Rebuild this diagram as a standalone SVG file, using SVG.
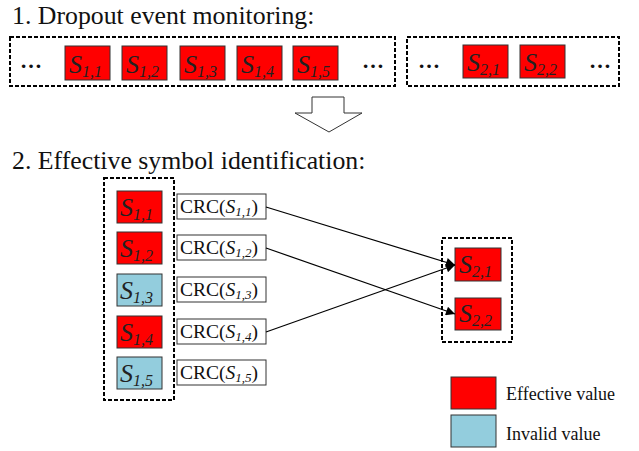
<svg xmlns="http://www.w3.org/2000/svg" width="639" height="451" viewBox="0 0 639 451">
<style>
text{font-family:'Liberation Serif','Times New Roman',serif;fill:#111}
.hd{font-size:25.8px}
.dash{fill:none;stroke:#000;stroke-width:2;stroke-dasharray:4 2}
.red{fill:#ff0000;stroke:#333;stroke-width:1}
.blue{fill:#93cddd;stroke:#333;stroke-width:1}
.sym{font-size:26px;font-style:italic;fill:#222}
.sub{font-size:16px}
.crc{fill:#fff;stroke:#333;stroke-width:1}
.crct{font-size:19.5px}
.dots{font-size:22px;font-weight:bold}
.conn{fill:none;stroke:#000;stroke-width:1.2;marker-end:url(#ah)}
.leg{font-size:18px}
</style>
<defs>
<marker id="ah" viewBox="0 0 10 10" refX="10" refY="5" markerWidth="10" markerHeight="9" markerUnits="userSpaceOnUse" orient="auto">
<path d="M0,0 L10,5 L0,10 z" fill="#000"/>
</marker>
</defs>
<rect width="639" height="451" fill="#fff"/>

<text class="hd" x="12" y="24">1. Dropout event monitoring:</text>

<g id="stream1">
<rect class="dash" x="10" y="37" width="385" height="49"/>
<text class="dots" x="20" y="68">…</text>
<text class="dots" x="362" y="68">…</text>
</g>
<g id="top-s11"><rect class="red" x="65" y="46" width="45" height="34"/><text class="sym" x="69" y="73">S<tspan class="sub" dy="4">1,1</tspan></text></g>
<g id="top-s12"><rect class="red" x="122" y="46" width="45" height="34"/><text class="sym" x="126" y="73">S<tspan class="sub" dy="4">1,2</tspan></text></g>
<g id="top-s13"><rect class="red" x="180" y="46" width="45" height="34"/><text class="sym" x="184" y="73">S<tspan class="sub" dy="4">1,3</tspan></text></g>
<g id="top-s14"><rect class="red" x="237" y="46" width="45" height="34"/><text class="sym" x="241" y="73">S<tspan class="sub" dy="4">1,4</tspan></text></g>
<g id="top-s15"><rect class="red" x="293" y="46" width="45" height="34"/><text class="sym" x="297" y="73">S<tspan class="sub" dy="4">1,5</tspan></text></g>

<g id="stream2">
<rect class="dash" x="407" y="37" width="212" height="49"/>
<text class="dots" x="418" y="68">…</text>
<text class="dots" x="589" y="68">…</text>
</g>
<g id="top-s21"><rect class="red" x="463" y="45" width="45" height="33"/><text class="sym" x="467" y="71">S<tspan class="sub" dy="4">2,1</tspan></text></g>
<g id="top-s22"><rect class="red" x="520" y="45" width="45" height="33"/><text class="sym" x="524" y="71">S<tspan class="sub" dy="4">2,2</tspan></text></g>

<g id="down-arrow">
<path d="M312,97 L344,97 L344,113 L362,113 L329,132 L295,113 L312,113 Z" fill="#fff" stroke="#333" stroke-width="1"/>
</g>

<text class="hd" x="12" y="169">2. Effective symbol identification:</text>

<g id="left-group"><rect class="dash" x="104" y="178" width="70" height="222"/></g>

<g id="s11"><rect class="red" x="117" y="191" width="45" height="32"/><text class="sym" x="120" y="216">S<tspan class="sub" dy="4">1,1</tspan></text></g>
<g id="s12"><rect class="red" x="117" y="232" width="45" height="32"/><text class="sym" x="120" y="257">S<tspan class="sub" dy="4">1,2</tspan></text></g>
<g id="s13"><rect class="blue" x="117" y="274" width="45" height="32"/><text class="sym" x="120" y="299">S<tspan class="sub" dy="4">1,3</tspan></text></g>
<g id="s14"><rect class="red" x="117" y="316" width="45" height="32"/><text class="sym" x="120" y="341">S<tspan class="sub" dy="4">1,4</tspan></text></g>
<g id="s15"><rect class="blue" x="117" y="357" width="45" height="32"/><text class="sym" x="120" y="382">S<tspan class="sub" dy="4">1,5</tspan></text></g>

<g id="crc1"><rect class="crc" x="177" y="194" width="89" height="25"/><text class="crct" x="180" y="213">CRC(<tspan font-style="italic">S</tspan><tspan font-style="italic" font-size="13" dy="3">1,1</tspan><tspan dy="-3">)</tspan></text></g>
<g id="crc2"><rect class="crc" x="177" y="235" width="89" height="25"/><text class="crct" x="180" y="254">CRC(<tspan font-style="italic">S</tspan><tspan font-style="italic" font-size="13" dy="3">1,2</tspan><tspan dy="-3">)</tspan></text></g>
<g id="crc3"><rect class="crc" x="177" y="277" width="89" height="25"/><text class="crct" x="180" y="296">CRC(<tspan font-style="italic">S</tspan><tspan font-style="italic" font-size="13" dy="3">1,3</tspan><tspan dy="-3">)</tspan></text></g>
<g id="crc4"><rect class="crc" x="177" y="319" width="89" height="25"/><text class="crct" x="180" y="338">CRC(<tspan font-style="italic">S</tspan><tspan font-style="italic" font-size="13" dy="3">1,4</tspan><tspan dy="-3">)</tspan></text></g>
<g id="crc5"><rect class="crc" x="177" y="360" width="89" height="25"/><text class="crct" x="180" y="379">CRC(<tspan font-style="italic">S</tspan><tspan font-style="italic" font-size="13" dy="3">1,5</tspan><tspan dy="-3">)</tspan></text></g>

<g id="right-group"><rect class="dash" x="442" y="238" width="70" height="104"/></g>
<g id="s21"><rect class="red" x="455" y="248" width="46" height="33"/><text class="sym" x="459" y="273">S<tspan class="sub" dy="4">2,1</tspan></text></g>
<g id="s22"><rect class="red" x="455" y="298" width="46" height="32"/><text class="sym" x="459" y="322">S<tspan class="sub" dy="4">2,2</tspan></text></g>

<g id="connectors">
<line class="conn" x1="266" y1="207" x2="455" y2="265"/>
<line class="conn" x1="266" y1="248" x2="455" y2="314"/>
<line class="conn" x1="266" y1="332" x2="455" y2="265"/>
</g>

<g id="legend-effective"><rect class="red" x="451" y="377" width="45" height="32"/><text class="leg" x="506" y="400">Effective value</text></g>
<g id="legend-invalid"><rect class="blue" x="451" y="415" width="45" height="32"/><text class="leg" x="506" y="440">Invalid value</text></g>
</svg>
